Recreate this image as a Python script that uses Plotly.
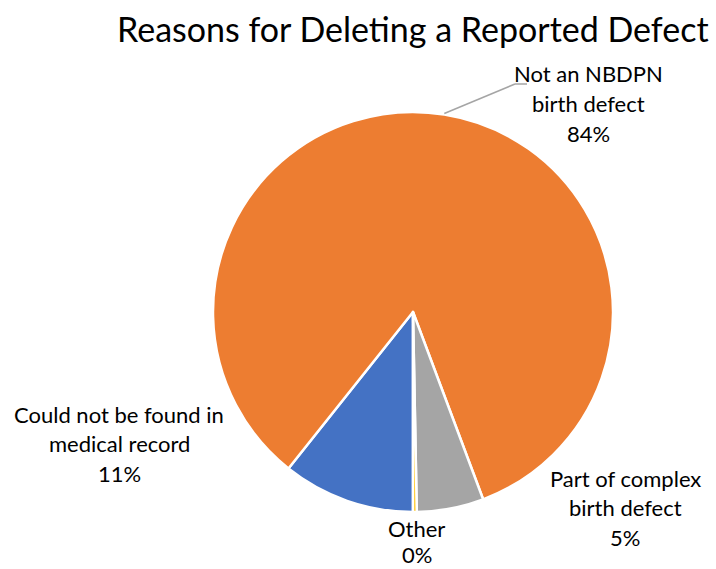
import math
import plotly.graph_objects as go

# Data (Excel series order; default Office palette)
labels = ["Could not be found in medical record", "Not an NBDPN birth defect",
          "Part of complex birth defect", "Other"]
values = [10.7, 83.6, 5.4, 0.3]
colors = ["#4472C4", "#ED7D31", "#A5A5A5", "#FFC000"]
label_lines = [["Could not be found in", "medical record"],
               ["Not an NBDPN", "birth defect"],
               ["Part of complex", "birth defect"],
               ["Other"]]
title = "Reasons for Deleting a Reported Defect"

W, H = 716, 569
FONT = "Lato"
CX, CY, R = 413, 312, 200
ROT = 180

def px(x):
    return x / W

def py(y):
    return 1 - y / H

fig = go.Figure(go.Pie(
    labels=labels, values=values, sort=False, direction="clockwise",
    rotation=ROT, marker=dict(colors=colors, line=dict(color="white", width=2.5)),
    textinfo="none", hoverinfo="label+percent", showlegend=False,
    domain=dict(x=[px(CX - R), px(CX + R)], y=[py(CY + R), py(CY - R)]),
))

total = sum(values)
pcts = [f"{round(v / total * 100)}%" for v in values]

# label anchor (center x, first line y) in pixels, line spacing
label_pos = [(119, 414), (588, 74), (625, 478), (417, 528)]
LS = [29.5, 29.5, 29.5, 26.5]
annotations = []
for lines, pct, (lx, ly), ls in zip(label_lines, pcts, label_pos, LS):
    for i, t in enumerate(lines + [pct]):
        annotations.append(dict(
            x=px(lx), y=py(ly + i * ls), xref="paper", yref="paper",
            text=t, showarrow=False, xanchor="center", yanchor="middle",
            font=dict(family=FONT, size=22, color="#000000")))

annotations.append(dict(
    x=px(413), y=py(29), xref="paper", yref="paper", text=title,
    showarrow=False, xanchor="center", yanchor="middle",
    font=dict(family=FONT, size=34, color="#000000")))

# leader line for the big slice, starting at its mid-angle on the rim
mid = ROT + values[0] / total * 360 + values[1] / total * 360 / 2
a = math.radians(mid)
x0, y0 = CX + R * math.sin(a), CY - R * math.cos(a)
shapes = [
    dict(type="line", xref="paper", yref="paper", x0=px(x0), y0=py(y0 - 1),
         x1=px(515), y1=py(84), line=dict(color="#A5A5A5", width=1.5)),
    dict(type="line", xref="paper", yref="paper", x0=px(515), y0=py(84),
         x1=px(527), y1=py(84), line=dict(color="#A5A5A5", width=1.5)),
]

fig.update_layout(
    width=W, height=H, margin=dict(l=0, r=0, t=0, b=0),
    paper_bgcolor="white", plot_bgcolor="white",
    annotations=annotations, shapes=shapes,
)
fig.write_html("out.html")
